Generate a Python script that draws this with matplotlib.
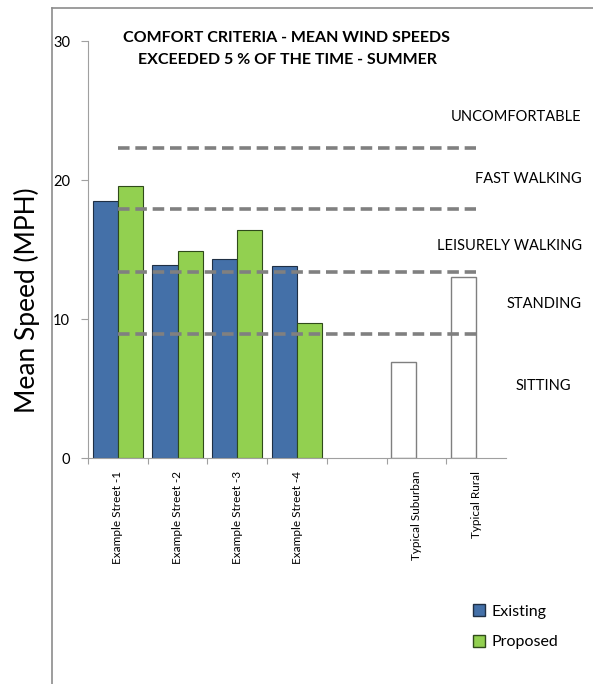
import numpy as np
import matplotlib
matplotlib.use('Agg')
import matplotlib.pyplot as plt
from matplotlib.patches import Patch

plt.rcParams['font.family'] = ['Lato', 'DejaVu Sans']

# wind speed results, mph
sites = ['Example Street -1', 'Example Street -2', 'Example Street -3', 'Example Street -4',
         '', 'Typical Suburban', 'Typical Rural']
existing = [18.5, 13.9, 14.3, 13.8]
proposed = [19.6, 14.9, 16.4, 9.7]
reference = [6.9, 13.0]          # typical suburban / rural
reference_pos = [5, 6]

# comfort thresholds and zone names
thresholds = [22.3, 17.9, 13.4, 8.9]
zones = ['UNCOMFORTABLE', 'FAST WALKING', 'LEISURELY WALKING', 'STANDING', 'SITTING']
zone_y = [24.5, 20.1, 15.25, 11.1, 5.2]

fig = plt.figure(figsize=(5.93, 6.84), dpi=100)
ax = fig.add_axes([0.1484, 0.3304, 0.7049, 0.6096])

w = 0.42
x = np.arange(len(existing))
ax.bar(x - w / 2, existing, w, color='#4470a8', edgecolor='#1f2f44', linewidth=0.8, zorder=2)
ax.bar(x + w / 2, proposed, w, color='#92d050', edgecolor='#2f4a1a', linewidth=0.8, zorder=2)
ax.bar(np.array(reference_pos) - w / 2, reference, w, color='white', edgecolor='#7f7f7f',
       linewidth=1.0, zorder=2)

for t in thresholds:
    ax.plot([0, 6], [t, t], color='#808080', lw=2.6, ls=(0, (3.2, 1.6)), zorder=3,
            solid_capstyle='butt')

for name, yv in zip(zones, zone_y):
    if name == 'SITTING':
        ax.text(7.13, yv, name, ha='center', va='center', fontsize=10.5, clip_on=False)
    else:
        ax.text(7.77, yv, name, ha='right', va='center', fontsize=10.5, clip_on=False)

ax.set_xlim(-0.5, 6.5)
ax.set_ylim(0, 30)
ax.set_yticks([0, 10, 20, 30])
ax.set_xticks(np.arange(-0.5, 6.0, 1.0), minor=False)
ax.set_xticklabels([])
ax.set_xticks(np.arange(len(sites)), minor=True)
ax.set_xticklabels(sites, minor=True, rotation=90, fontsize=8.5, va='top')
ax.tick_params(axis='x', which='minor', length=0, pad=9)
ax.tick_params(axis='x', which='major', length=4, color='#a0a0a0')
ax.tick_params(axis='y', length=5, color='#a0a0a0', labelsize=10.5, pad=8)

for s in ['top', 'right']:
    ax.spines[s].set_visible(False)
for s in ['left', 'bottom']:
    ax.spines[s].set_color('#a0a0a0')

ax.set_title('COMFORT CRITERIA - MEAN WIND SPEEDS\nEXCEEDED 5 % OF THE TIME - SUMMER',
             fontsize=11.5, fontweight='bold', x=0.476, y=0.925, linespacing=1.75)

fig.text(0.046, 0.561, 'Mean Speed (MPH)', rotation=90, ha='center', va='center', fontsize=19)

# outer chart frame (left and top edges)
fig.add_artist(plt.Line2D([52 / 593, 52 / 593], [0, 1 - 8 / 684], color='#8c8c8c', lw=1.2))
fig.add_artist(plt.Line2D([52 / 593, 1], [1 - 8 / 684, 1 - 8 / 684], color='#8c8c8c', lw=1.2))

handles = [Patch(facecolor='#4470a8', edgecolor='#1f2f44', label='Existing'),
           Patch(facecolor='#92d050', edgecolor='#2f4a1a', label='Proposed')]
fig.legend(handles=handles, loc='upper left', bbox_to_anchor=(0.785, 0.128), frameon=False,
           fontsize=11.5, handlelength=0.75, handleheight=0.75, handletextpad=0.35,
           labelspacing=1.0, borderpad=0)

fig.savefig('out.png', dpi=100)
